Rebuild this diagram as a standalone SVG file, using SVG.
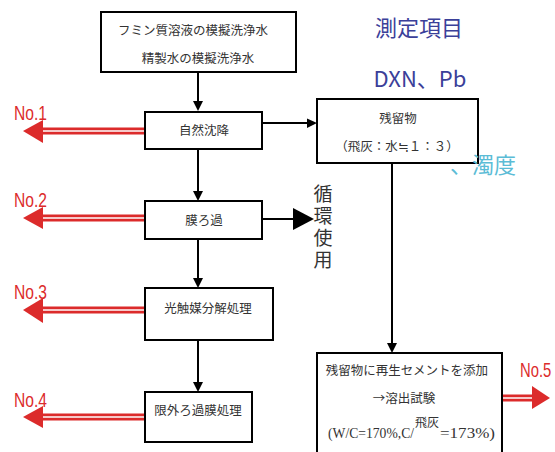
<svg xmlns="http://www.w3.org/2000/svg" width="555" height="452" viewBox="0 0 555 452">
<style>
.box{fill:#fff;stroke:#000;stroke-width:2}
.t{font-family:"Noto Sans CJK JP","Liberation Serif",serif;font-size:12.5px;fill:#333;text-anchor:middle}
.ln{stroke:#000;stroke-width:2;fill:none}
.ah{fill:#000}
.rs{stroke:#dc2b2b;stroke-width:7;fill:none}
.rw{stroke:#fff;stroke-width:1.5;fill:none}
.rh{fill:#dc2b2b}
.no{font-family:"Liberation Sans",sans-serif;font-size:20px;fill:#dc2b2b}
.bl{font-family:"Noto Sans CJK JP","Liberation Sans",sans-serif;font-size:22px;fill:#3b4099;text-anchor:middle}
.sf{font-family:"Liberation Serif",serif;font-size:14.5px;fill:#333}
</style>
<rect width="555" height="452" fill="#fff"/>
<g id="connectors">
<line class="ln" x1="198" y1="72" x2="198" y2="102"/><polygon class="ah" points="193,101 203,101 198,111"/>
<line class="ln" x1="262" y1="123" x2="309" y2="123"/><polygon class="ah" points="307,118.5 307,128 317,123"/>
<line class="ln" x1="198" y1="149" x2="198" y2="192"/><polygon class="ah" points="193,191 203,191 198,201"/>
<line class="ln" x1="262" y1="219" x2="295" y2="219"/><polygon class="ah" points="293,208 293,230 314,219"/>
<line class="ln" x1="198" y1="239" x2="198" y2="279"/><polygon class="ah" points="193,278 203,278 198,288"/>
<line class="ln" x1="198" y1="340" x2="198" y2="383"/><polygon class="ah" points="193,382 203,382 198,392"/>
<line class="ln" x1="392" y1="163" x2="392" y2="344"/><polygon class="ah" points="387,343 397,343 392,353"/>
<g id="red-arrows">
<line class="rs" x1="145" y1="131" x2="40" y2="131"/><line class="rw" x1="145" y1="131" x2="40" y2="131"/><polygon class="rh" points="23,131 43,120 43,143"/>
<line class="rs" x1="145" y1="218" x2="40" y2="218"/><line class="rw" x1="145" y1="218" x2="40" y2="218"/><polygon class="rh" points="23,218 43,207 43,229"/>
<line class="rs" x1="145" y1="310" x2="40" y2="310"/><line class="rw" x1="145" y1="310" x2="40" y2="310"/><polygon class="rh" points="23,310 43,298 43,323"/>
<line class="rs" x1="145" y1="417" x2="40" y2="417"/><line class="rw" x1="145" y1="417" x2="40" y2="417"/><polygon class="rh" points="23,417 43,406 43,428"/>
<line class="rs" x1="447" y1="398" x2="535" y2="398"/><line class="rw" x1="447" y1="398" x2="535" y2="398"/><polygon class="rh" points="550,398 532,386 532,409"/>
</g>
</g>
<g id="n-source"><rect class="box" x="101" y="12" width="195" height="60"/>
<text class="t" x="193" y="35">フミン質溶液の模擬洗浄水</text>
<text class="t" x="198" y="63">精製水の模擬洗浄水</text></g>
<g id="n-settle"><rect class="box" x="145" y="112" width="117" height="37"/><text class="t" x="204" y="135">自然沈降</text></g>
<g id="n-membrane"><rect class="box" x="145" y="201" width="117" height="38"/><text class="t" x="204" y="225">膜ろ過</text></g>
<g id="n-photo"><rect class="box" x="145" y="288" width="128" height="52"/><text class="t" x="208" y="313">光触媒分解処理</text></g>
<g id="n-uf"><rect class="box" x="145" y="392" width="107" height="50"/><text class="t" x="198" y="415">限外ろ過膜処理</text></g>
<g id="n-residue"><rect class="box" x="317" y="99" width="161" height="64"/>
<text class="t" x="398" y="123">残留物</text>
<text class="t" x="397" y="151" font-size="11.5">（飛灰：水≒１：３）</text></g>
<g id="n-cement"><rect class="box" x="317" y="353" width="185" height="110"/>
<text class="t" x="407" y="375">残留物に再生セメントを添加</text>
<text class="t" x="404" y="403">→溶出試験</text>
<text class="sf" x="328" y="438" textLength="86" lengthAdjust="spacingAndGlyphs">(W/C=170%,C/</text>
<text x="415" y="427" font-family="Noto Sans CJK JP,sans-serif" font-size="12" fill="#333">飛灰</text>
<text class="sf" x="440" y="438" textLength="55" lengthAdjust="spacingAndGlyphs">=173%)</text></g>
<g id="n-recycle"><text x="323" y="184" writing-mode="vertical-rl" font-family="Noto Sans CJK JP,sans-serif" font-size="19" letter-spacing="3" fill="#333">循環使用</text></g>
<g id="labels">
<text class="no" x="14" y="120" textLength="33" lengthAdjust="spacingAndGlyphs">No.1</text>
<text class="no" x="14" y="207" textLength="33" lengthAdjust="spacingAndGlyphs">No.2</text>
<text class="no" x="14" y="299" textLength="33" lengthAdjust="spacingAndGlyphs">No.3</text>
<text class="no" x="14" y="407" textLength="33" lengthAdjust="spacingAndGlyphs">No.4</text>
<text class="no" transform="translate(520,377) scale(0.74,1)">No.5</text>
<text class="bl" x="419" y="36">測定項目</text>
<text class="bl" x="420" y="87" font-family="Liberation Sans,Noto Sans CJK JP,sans-serif">DXN、Pb</text>
<text x="450" y="173" font-family="Noto Sans CJK JP,sans-serif" font-size="22" fill="#5bbcd6">、濁度</text>
</g>
</svg>
